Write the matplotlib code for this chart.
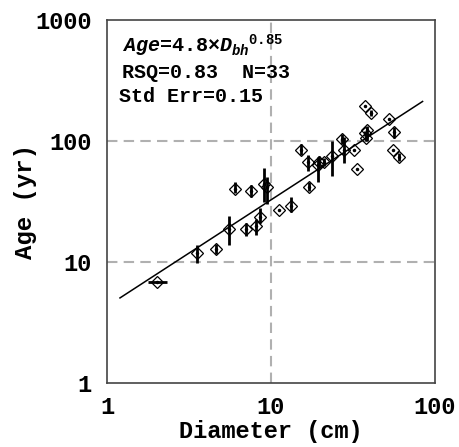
import matplotlib.pyplot as plt
import matplotlib as mpl
import numpy as np

mpl.rcParams['font.family'] = 'Liberation Mono'
mpl.rcParams['font.weight'] = 'bold'
mpl.rcParams['mathtext.fontset'] = 'custom'
mpl.rcParams['mathtext.rm'] = 'Liberation Mono:bold'
mpl.rcParams['mathtext.it'] = 'Liberation Mono:italic:bold'

# measured points
diameter = [2.02, 3.54, 4.62, 5.55, 6.03, 7.04, 7.55, 8.1, 8.57, 9.06, 9.4,
            11.2, 13.2, 15.2, 16.8, 17.1, 19.3, 19.7, 21.0, 23.5, 27.1, 27.9,
            32.0, 33.4, 37.4, 40.7, 37.4, 38.5, 38.0, 52.4, 56.3, 55.5, 60.3]
age = [6.8, 11.9, 12.8, 18.7, 40.0, 18.7, 38.6, 19.9, 23.5, 44.0, 41.7,
       26.9, 29.0, 84.0, 67.0, 41.7, 63.0, 67.0, 67.0, 75.0, 104.0, 84.0,
       84.0, 58.7, 195.0, 170.0, 116.0, 123.0, 106.0, 152.0, 119.0, 84.0, 73.8]
age_lo = [6.8, 9.9, 11.7, 13.9, 37.5, 16.5, 34.7, 16.8, 21.0, 31.1, 30.0,
          26.9, 25.7, 77.0, 57.0, 38.4, 45.5, 60.0, 62.0, 51.1, 94.0, 65.5,
          84.0, 58.7, 195.0, 160.0, 110.0, 99.6, 100.0, 152.0, 105.0, 84.0, 68.0]
age_hi = [6.8, 13.7, 14.2, 23.8, 45.5, 21.0, 43.0, 22.8, 28.0, 59.5, 50.0,
          26.9, 34.2, 94.0, 76.0, 45.5, 73.4, 75.0, 72.0, 99.6, 114.0, 107.0,
          84.0, 58.7, 195.0, 180.0, 122.0, 132.0, 112.0, 152.0, 130.0, 84.0, 80.0]
diam_lo = [1.78] + diameter[1:]
diam_hi = [2.32] + diameter[1:]

# fitted line as drawn
fit_a = 4.3
fit_b = 0.88
fit_range = [1.2, 84.0]

x = np.array(diameter)
y = np.array(age)
yerr = [y - np.array(age_lo), np.array(age_hi) - y]
xerr = [x - np.array(diam_lo), np.array(diam_hi) - x]

fig = plt.figure(figsize=(4.6, 4.47), dpi=100)
ax = fig.add_axes([107 / 460, 64 / 447, 328 / 460, 363 / 447])

for v in [10, 100]:
    ax.axhline(v, color='#b0b0b0', lw=1.5, ls=(0, (5, 3)), zorder=0)
ax.axvline(10, color='#b0b0b0', lw=1.5, ls=(0, (5, 3)), zorder=0)

ax.errorbar(x, y, yerr=yerr, xerr=xerr, fmt='none', ecolor='black', elinewidth=2, capsize=0, zorder=2)
ax.plot(x, y, ls='none', marker='D', ms=6.5, mfc='none', mec='black', mew=0.9, zorder=3)
ax.plot(x, y, ls='none', marker='o', ms=1.5, color='black', zorder=3)

xf = np.logspace(np.log10(fit_range[0]), np.log10(fit_range[1]), 50)
ax.plot(xf, fit_a * xf ** fit_b, color='black', lw=1.1, zorder=4)

ax.set_xscale('log')
ax.set_yscale('log')
ax.set_xlim(1, 100)
ax.set_ylim(1, 1000)
ax.set_xticks([1, 10, 100])
ax.set_xticklabels(['1', '10', '100'])
ax.set_yticks([1, 10, 100, 1000])
ax.set_yticklabels(['1', '10', '100', '1000'])
ax.minorticks_off()
ax.tick_params(length=0, labelsize=17)
ax.tick_params(axis='x', pad=9)
ax.tick_params(axis='y', pad=11)
for s in ax.spines.values():
    s.set_color('#444444')
    s.set_linewidth(1.2)

ax.set_xlabel('Diameter (cm)', fontsize=17, fontweight='bold', labelpad=1)
ax.set_ylabel('Age (yr)', fontsize=17.3, fontweight='bold', labelpad=-1)

fig.text(122 / 460, 1 - 46 / 447, r'$\mathit{Age}$=4.8×$\mathit{D_{bh}}^{0.85}$', fontsize=14.4, va='center')
fig.text(122 / 460, 1 - 72 / 447, 'RSQ=0.83  N=33', fontsize=14.4, va='center')
fig.text(119 / 460, 1 - 96 / 447, 'Std Err=0.15', fontsize=14.4, va='center')

fig.savefig('out.png', dpi=100)
